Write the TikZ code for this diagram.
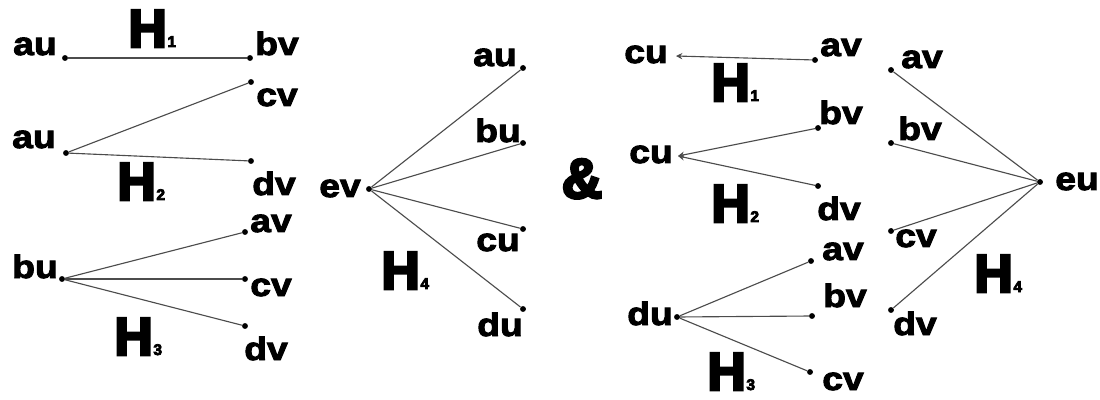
\documentclass[tikz,border=0pt]{standalone}
\usepackage{fontspec}
\usetikzlibrary{arrows.meta}
\setmainfont{Liberation Sans}
\newfontfamily\labfont[FakeBold=3,FakeStretch=1.15]{Liberation Sans Bold}
\newfontfamily\bigfont[FakeBold=5]{Liberation Sans Bold}
\begin{document}
\begin{tikzpicture}[x=0.025cm,y=-0.025cm,
  vert/.style={circle,fill=black,inner sep=0pt,minimum size=4.2pt},
  edge/.style={draw=black!70,line width=0.8pt},
  arr/.style={edge,{Stealth[length=4.5pt,width=4.5pt]}-},
  lab/.style={anchor=base,inner sep=0pt,font=\labfont\fontsize{23}{23}\selectfont},
  gname/.style={anchor=base west,inner sep=0pt,font=\bigfont\fontsize{38}{38}\selectfont},
  gsub/.style={anchor=base west,inner sep=0pt,font=\bigfont\fontsize{11}{11}\selectfont}]
\useasboundingbox (0,0) rectangle (1100,400);

% ---------- left: H1 ----------
\node[vert] (a1) at (65,58) {};
\node[vert] (b1) at (250,58) {};
\draw[edge] (a1) -- (b1);
\node[lab] at (35,55) {au};
\node[lab] at (277,55) {bv};
\node[gname] (h1) at (128,47) {H};
\node[gsub] at (h1.base east) {1};

% ---------- left: H2 ----------
\node[vert] (a2) at (66,153) {};
\node[vert] (c2) at (251,82) {};
\node[vert] (d2) at (251,161) {};
\draw[edge] (a2) -- (c2);
\draw[edge] (a2) -- (d2);
\node[lab] at (34,148) {au};
\node[lab] at (277,106) {cv};
\node[lab] at (274,195) {dv};
\node[gname] (h2) at (117,200) {H};
\node[gsub] at (h2.base east) {2};

% ---------- left: H3 ----------
\node[vert] (b3) at (62,279) {};
\node[vert] (a3) at (245,232) {};
\node[vert] (c3) at (245,279) {};
\node[vert] (d3) at (245,326) {};
\draw[edge] (b3) -- (a3);
\draw[edge] (b3) -- (c3);
\draw[edge] (b3) -- (d3);
\node[lab] at (35,278) {bu};
\node[lab] at (271,232) {av};
\node[lab] at (271,296) {cv};
\node[lab] at (266,360) {dv};
\node[gname] (h3) at (114,355) {H};
\node[gsub] at (h3.base east) {3};

% ---------- left: H4 ----------
\node[vert] (e4) at (369,189) {};
\node[vert] (a4) at (523,68) {};
\node[vert] (b4) at (523,143) {};
\node[vert] (c4) at (523,229) {};
\node[vert] (d4) at (523,309) {};
\foreach \t in {a4,b4,c4,d4} \draw[edge] (e4) -- (\t);
\node[lab] at (340,197) {ev};
\node[lab] at (495,66) {au};
\node[lab] at (498,142) {bu};
\node[lab] at (498,251) {cu};
\node[lab] at (500,336) {du};
\node[gname] (h4) at (381,289) {H};
\node[gsub] at (h4.base east) {4};

% ---------- ampersand ----------
\node[anchor=base,inner sep=0pt,font=\bigfont\fontsize{40}{40}\selectfont] (amp) at (582,198) {\&};

% ---------- right: H1 ----------
\coordinate (rc1) at (676,56);
\node[vert] (ra1) at (815,60) {};
\draw[arr] (rc1) -- (ra1);
\node[lab] at (646,63) {cu};
\node[lab] at (841,56) {av};
\node[gname] (rh1) at (711,101) {H};
\node[gsub] at (rh1.base east) {1};

% ---------- right: H2 ----------
\coordinate (rc2) at (678,156);
\node[vert] (rb2) at (818,128) {};
\node[vert] (rd2) at (818,186) {};
\draw[arr] (rc2) -- (rb2);
\draw[arr] (rc2) -- (rd2);
\node[lab] at (651,163) {cu};
\node[lab] at (841,124) {bv};
\node[lab] at (839,220) {dv};
\node[gname] (rh2) at (711,222) {H};
\node[gsub] at (rh2.base east) {2};

% ---------- right: H3 ----------
\node[vert] (rd3) at (677,317) {};
\node[vert] (ra3) at (811,261) {};
\node[vert] (rb3) at (812,316) {};
\node[vert] (rc3) at (810,372) {};
\foreach \t in {ra3,rb3,rc3} \draw[edge] (rd3) -- (\t);
\node[lab] at (650,325) {du};
\node[lab] at (843,260) {av};
\node[lab] at (845,307) {bv};
\node[lab] at (843,390) {cv};
\node[gname] (rh3) at (707,390) {H};
\node[gsub] at (rh3.base east) {3};

% ---------- right: H4 ----------
\node[vert] (re4) at (1040,182) {};
\node[vert] (ra4) at (891,70) {};
\node[vert] (rb4) at (891,143) {};
\node[vert] (rc4) at (891,231) {};
\node[vert] (rd4) at (891,310) {};
\foreach \t in {ra4,rb4,rc4,rd4} \draw[edge] (re4) -- (\t);
\node[lab] at (1077,190) {eu};
\node[lab] at (922,68) {av};
\node[lab] at (920,140) {bv};
\node[lab] at (916,247) {cv};
\node[lab] at (915,335) {dv};
\node[gname] (rh4) at (974,292) {H};
\node[gsub] at (rh4.base east) {4};
\end{tikzpicture}
\end{document}
